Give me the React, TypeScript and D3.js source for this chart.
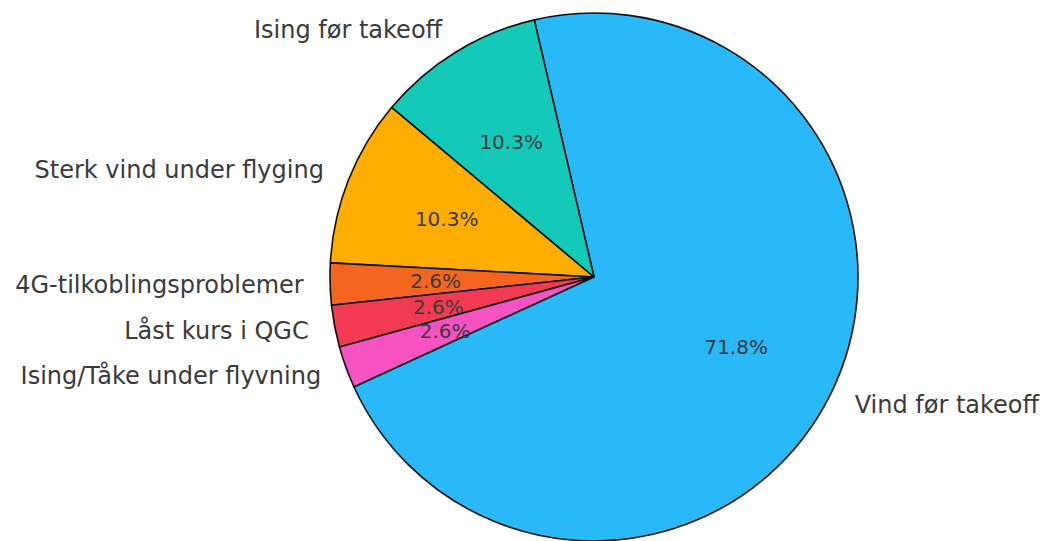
import * as d3 from "d3";
import { useEffect, useRef } from "react";

const labels = [
  "Sterk vind under flyging",
  "4G-tilkoblingsproblemer",
  "Låst kurs i QGC",
  "Ising/Tåke under flyvning",
  "Vind før takeoff",
  "Ising før takeoff",
];
const counts = [4, 1, 1, 1, 28, 4];
const colors = ["#FFAD00", "#F4651F", "#F23A52", "#F752C2", "#29B8F8", "#14C9B8"];

const WIDTH = 1047;
const HEIGHT = 541;
const TEXT_COLOR = "#3a3a3a";

const App = () => {
  const svgRef = useRef(null);

  useEffect(() => {
    const svg = d3.select(svgRef.current);
    svg.selectAll("*").remove();

    const cx = 594;
    const cy = 277;
    const r = 264;
    // matplotlib style: counter-clockwise starting at 140deg
    const start = ((90 - 140) * Math.PI) / 180;

    const pie = d3
      .pie<number>()
      .sort(null)
      .startAngle(start)
      .endAngle(start - 2 * Math.PI)
      .value((d) => d);
    const arcs = pie(counts);
    const total = d3.sum(counts);

    const arc = d3.arc<d3.PieArcDatum<number>>().innerRadius(0).outerRadius(r);

    const g = svg.append("g").attr("transform", `translate(${cx},${cy})`);

    g.selectAll("path")
      .data(arcs)
      .enter()
      .append("path")
      .attr("d", (d) => arc(d) as string)
      .attr("fill", (d, i) => colors[i])
      .attr("stroke", "#111")
      .attr("stroke-width", 1.6)
      .attr("stroke-linejoin", "round");

    const mid = (d: d3.PieArcDatum<number>) => (d.startAngle + d.endAngle) / 2;

    g.selectAll("text.pct")
      .data(arcs)
      .enter()
      .append("text")
      .attr("class", "pct")
      .attr("x", (d) => Math.sin(mid(d)) * r * 0.6)
      .attr("y", (d) => -Math.cos(mid(d)) * r * 0.6)
      .attr("text-anchor", "middle")
      .attr("dominant-baseline", "central")
      .attr("font-family", "DejaVu Sans")
      .attr("font-size", 20)
      .attr("fill", TEXT_COLOR)
      .text((d) => ((d.value / total) * 100).toFixed(1) + "%");

    g.selectAll("text.lbl")
      .data(arcs)
      .enter()
      .append("text")
      .attr("class", "lbl")
      .attr("x", (d) => Math.sin(mid(d)) * r * 1.1)
      .attr("y", (d) => -Math.cos(mid(d)) * r * 1.1)
      .attr("text-anchor", (d) => (Math.sin(mid(d)) > 0 ? "start" : "end"))
      .attr("dominant-baseline", "central")
      .attr("font-family", "DejaVu Sans")
      .attr("font-size", 24)
      .attr("fill", TEXT_COLOR)
      .text((d, i) => labels[i]);
  }, []);

  return (
    <svg
      ref={svgRef}
      width={WIDTH}
      height={HEIGHT}
      style={{ position: "absolute", left: 0, top: 0, background: "white" }}
    ></svg>
  );
};

export default App;
